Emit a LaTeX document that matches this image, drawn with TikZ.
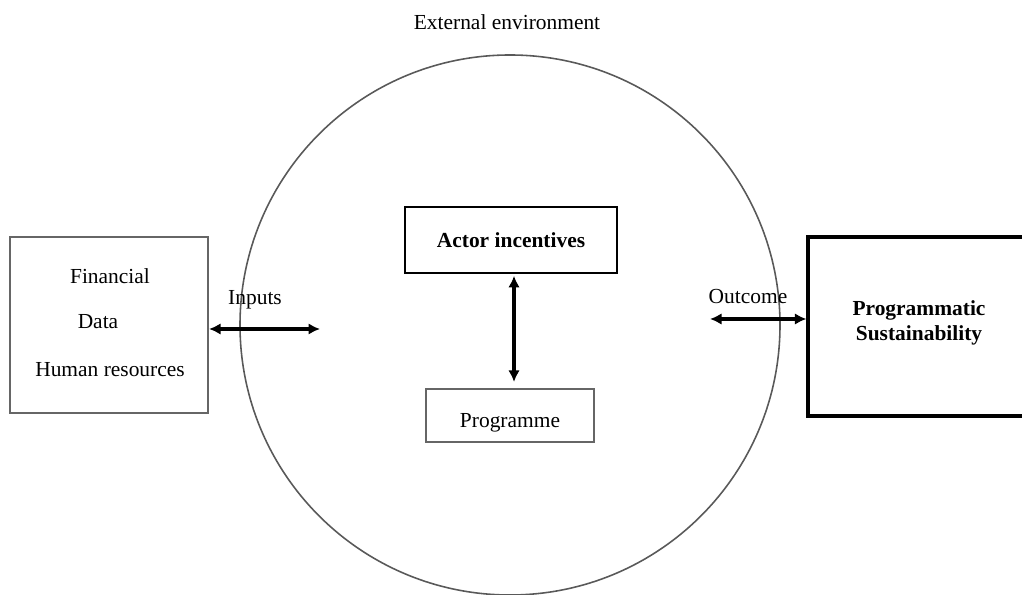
\documentclass[tikz,border=0pt]{standalone}
\usepackage{fontspec}
\setmainfont{Liberation Serif}
\usepackage{xcolor}
\usepackage{tikz}
\usetikzlibrary{positioning,calc}
\usetikzlibrary{arrows.meta}
\tikzset{grey box/.style={draw=black!60,line width=1.2pt,inner sep=0pt},
  dark box/.style={draw=black,line width=1.5pt,inner sep=0pt},
  link/.style={{Latex[length=2.3mm,width=2.3mm]}-{Latex[length=2.3mm,width=2.3mm]},line width=2pt},
  lbl/.style={inner sep=1pt}}

\begin{document}
\begin{tikzpicture}[font=\fontsize{12.2}{14}\selectfont]
      \useasboundingbox (0,0) rectangle (20.44,11.9);
      \clip (0,0) rectangle (20.44,11.9);
      \node[circle,draw=black!65,line width=0.9pt,minimum size=10.8cm,inner sep=0pt] (env) at (10.2,5.4) {};
      \node[lbl] (envlbl) at (10.14,11.46) {External environment};
      \node[grey box,minimum width=3.96cm,minimum height=3.52cm] (res) at (2.18,5.40) {};
      \node[lbl] (fin) at (2.2,6.38) {Financial};
      \node[lbl] (data) at (1.96,5.46) {Data};
      \node[lbl] (hum) at (2.2,4.5) {Human resources};
      \node[dark box,minimum width=4.24cm,minimum height=1.32cm,font=\fontsize{12.2}{14}\selectfont\bfseries] (act) at (10.22,7.1) {Actor incentives};
      \node[grey box,minimum width=3.36cm,minimum height=1.06cm] (prog) at (10.2,3.59) {\raisebox{-7pt}[0pt][0pt]{Programme}};
      \node[dark box,line width=1.8pt,minimum width=4.44cm,minimum height=3.58cm,align=center,font=\fontsize{12.2}{14}\selectfont\bfseries] (sus) at (18.38,5.37) {\raisebox{7pt}{\shortstack{Programmatic\\Sustainability}}};
      \coordinate (inR) at (6.4,5.32);
      \coordinate (outL) at (14.2,5.52);
      \draw[link] (res.east |- inR) -- (inR);
      \draw[link] (outL) -- (sus.west |- outL);
      \draw[link] ($(act.south)+(0.06,-0.03)$) -- ($(prog.north)+(0.08,0.12)$);
      \node[lbl] (inlbl) at (5.1,5.9) {Inputs};
      \node[lbl] (outlbl) at (14.96,5.96) {Outcome};
    \end{tikzpicture}
\end{document}
